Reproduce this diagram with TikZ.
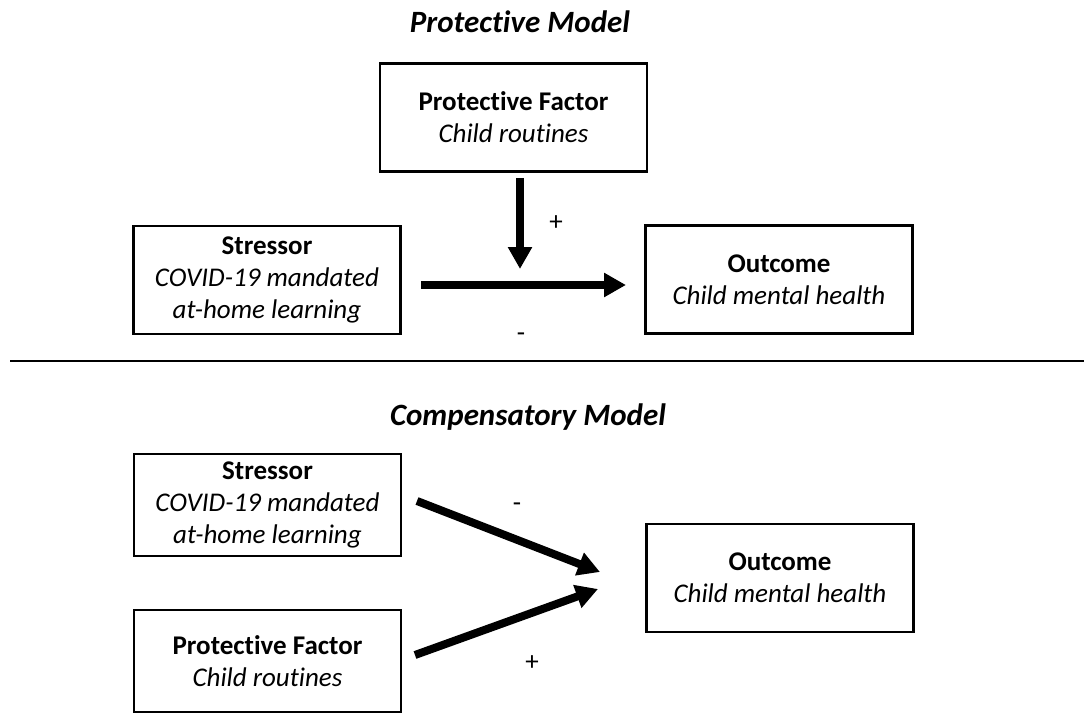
\documentclass[tikz,border=0pt]{standalone}
\usepackage{fontspec}
\setmainfont{Carlito}[Ligatures=NoCommon]
\usepackage{tikz}
\usetikzlibrary{arrows.meta}
\tikzset{>={Triangle[length=22pt,width=23pt]}}
\tikzset{
  factorbox/.style={draw, line width=2.5pt, minimum width=267pt, minimum height=108pt,
    inner sep=0pt, align=center, font=\fontsize{27}{32}\selectfont},
  effect/.style={->, line width=8pt},
  sign/.style={font=\fontsize{27}{30}\selectfont},
  modeltitle/.style={font=\fontsize{31}{34}\selectfont\bfseries\itshape}
}

\begin{document}
\begin{tikzpicture}[x=1pt, y=-1pt]
\useasboundingbox (0,0) rectangle (1084,714);

% protective model
\node[modeltitle] (titleP) at (520,22) {Protective Model};
\node[factorbox] (protA) at (513.5,117.5) {\textbf{Protective Factor}\\\textit{Child routines}};
\node[factorbox] (stressA) at (267,280) {\textbf{Stressor}\\\textit{COVID-19 mandated}\\\textit{at-home learning}};
\node[factorbox] (outA) at (779,279.5) {\textbf{Outcome}\\\textit{Child mental health}};

\coordinate (modtop) at (520,178);
\coordinate (modtip) at (520,269);
\coordinate (srcA) at (421,285);
\coordinate (dstA) at (626,285);
\draw[effect] (modtop) -- (modtip);
\draw[effect] (srcA) -- (dstA);
\node[sign] (plusA) at (556,223) {+};
\node[sign] (minusA) at (521,337) {-};

\coordinate (ruleL) at (10,361);
\coordinate (ruleR) at (1084,361);
\draw[line width=2pt] (ruleL) -- (ruleR);

% compensatory model
\node[modeltitle] (titleC) at (528,417) {Compensatory Model};
\node[factorbox, minimum height=102pt] (stressB) at (267.5,505) {\textbf{Stressor}\\\textit{COVID-19 mandated}\\\textit{at-home learning}};
\node[factorbox, minimum height=102pt] (protB) at (267.5,661) {\textbf{Protective Factor}\\\textit{Child routines}};
\node[factorbox] (outB) at (780,578) {\textbf{Outcome}\\\textit{Child mental health}};

\coordinate (srcB) at (417,501);
\coordinate (dstB) at (600,572);
\coordinate (srcC) at (415,655);
\coordinate (dstC) at (598,589);
\draw[effect] (srcB) -- (dstB);
\draw[effect] (srcC) -- (dstC);
\node[sign] (minusB) at (517,507) {-};
\node[sign] (plusB) at (532,663) {+};

\end{tikzpicture}
\end{document}
